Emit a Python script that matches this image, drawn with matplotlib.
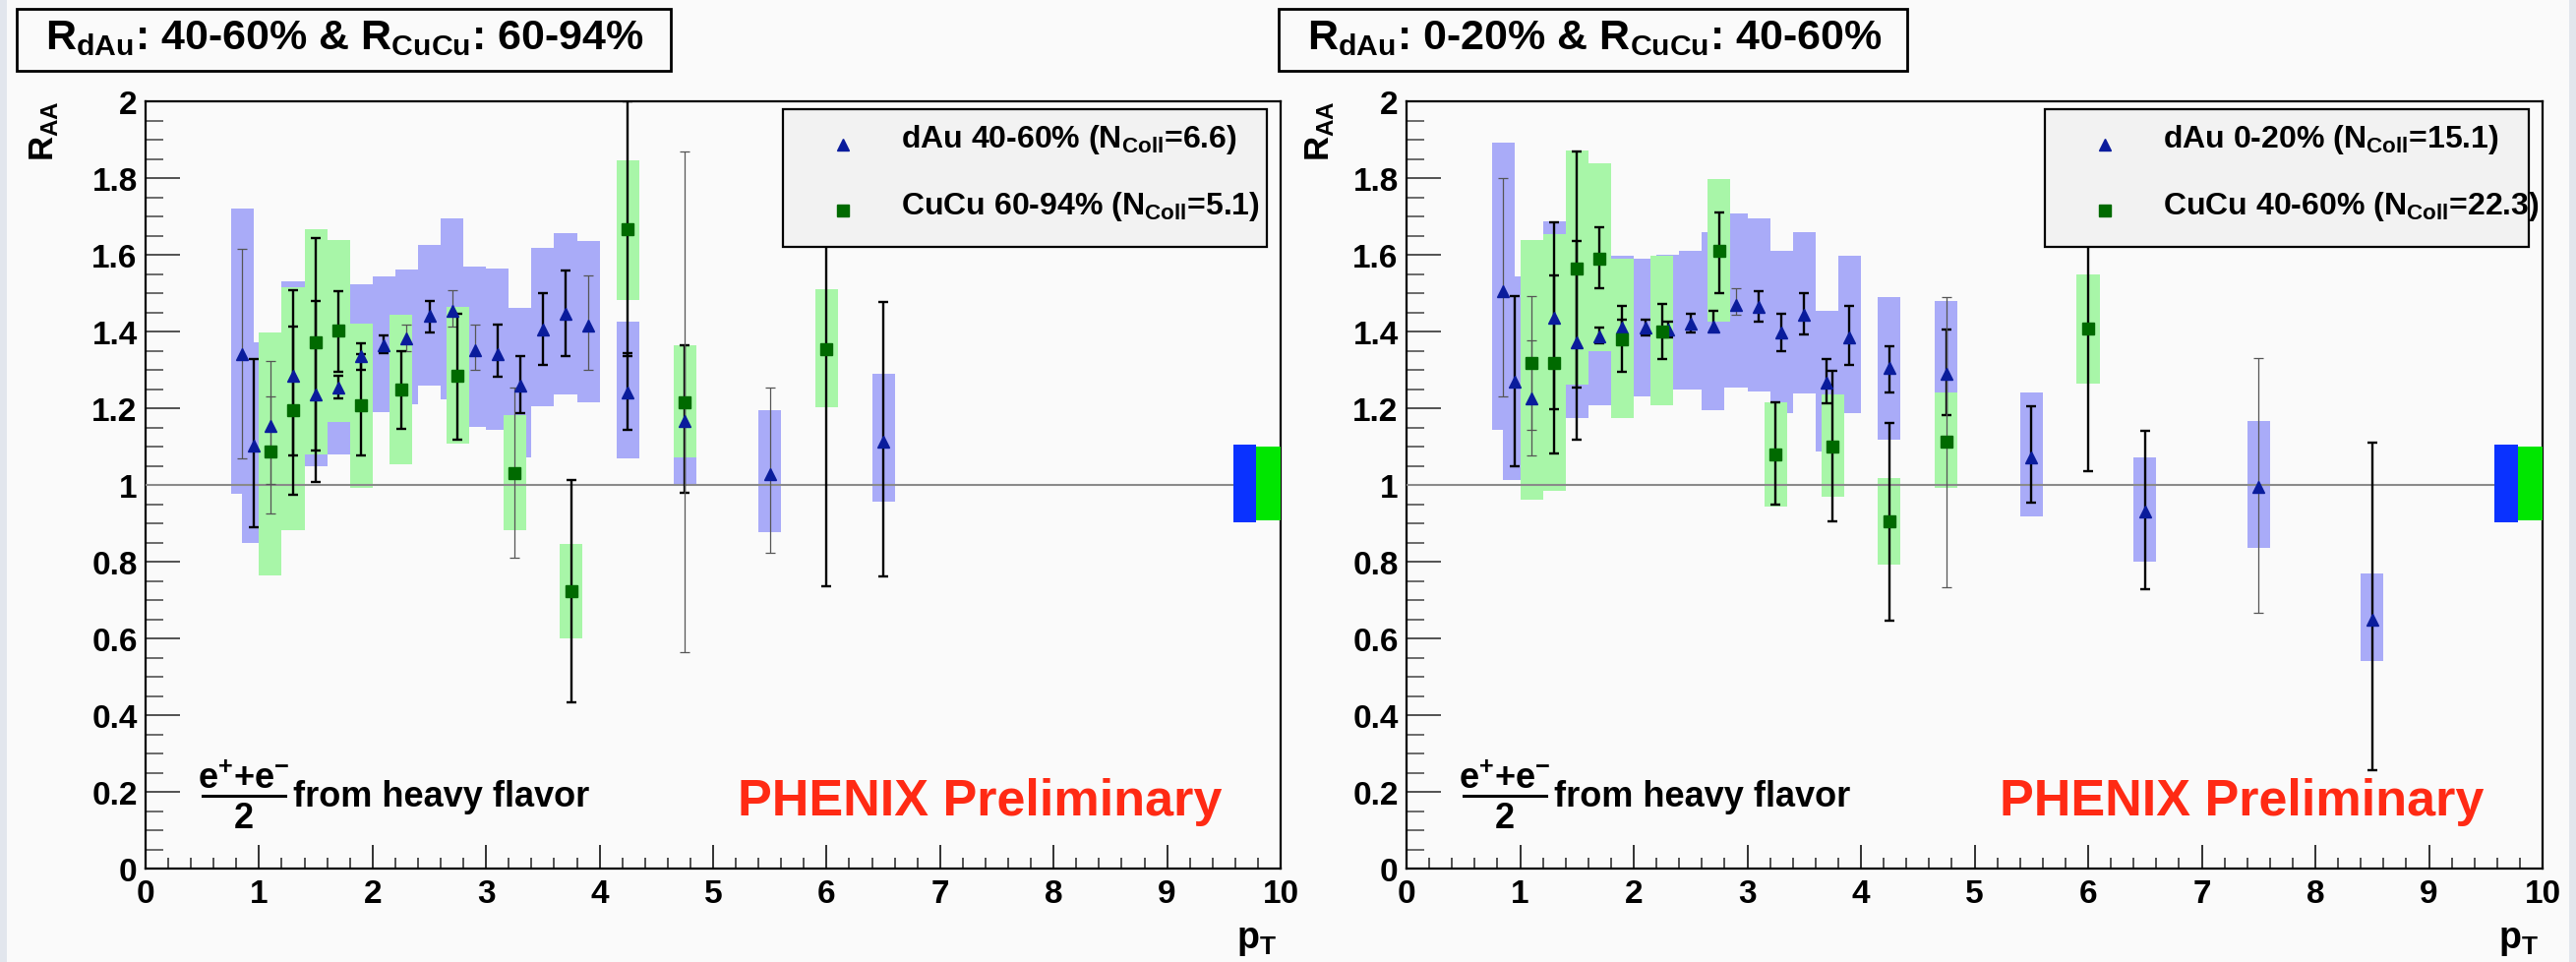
import numpy as np
import matplotlib
matplotlib.use('Agg')
import matplotlib.pyplot as plt
from matplotlib.patches import Rectangle
from matplotlib.ticker import MultipleLocator, FuncFormatter

plt.rcParams['font.family'] = ['Liberation Sans', 'DejaVu Sans']
plt.rcParams['font.weight'] = 'bold'
plt.rcParams['mathtext.fontset'] = 'custom'
for k in ['rm', 'it', 'bf', 'sf']:
    plt.rcParams['mathtext.' + k] = 'Liberation Sans:bold'

# ---------------- data: left panel (dAu 40-60%, CuCu 60-94%) ----------------
pt_dAu_L = [0.85, 0.95, 1.1, 1.3, 1.5, 1.7, 1.9, 2.1, 2.3, 2.5, 2.7, 2.9, 3.1, 3.3, 3.5, 3.7, 3.9, 4.25, 4.75, 5.5, 6.5]
raa_dAu_L = [1.342, 1.102, 1.155, 1.284, 1.237, 1.254, 1.335, 1.365, 1.382, 1.442, 1.455, 1.352, 1.342, 1.258, 1.406, 1.445, 1.415, 1.241, 1.167, 1.029, 1.114]
stlo_dAu_L = [1.070, 0.891, 1.002, 1.076, 1.008, 1.225, 1.30, 1.344, 1.350, 1.397, 1.414, 1.301, 1.281, 1.188, 1.314, 1.336, 1.301, 1.144, 0.980, 0.822, 0.761]
sthi_dAu_L = [1.615, 1.328, 1.322, 1.508, 1.480, 1.285, 1.37, 1.391, 1.418, 1.480, 1.508, 1.418, 1.418, 1.336, 1.500, 1.559, 1.546, 1.343, 1.365, 1.254, 1.478]
sylo_dAu_L = [0.978, 0.849, 0.96, 1.04, 1.049, 1.079, 1.15, 1.190, 1.211, 1.258, 1.224, 1.151, 1.143, 1.071, 1.205, 1.236, 1.216, 1.068, 1.000, 0.878, 0.957]
syhi_dAu_L = [1.721, 1.373, 1.35, 1.532, 1.43, 1.45, 1.523, 1.544, 1.561, 1.626, 1.694, 1.570, 1.564, 1.461, 1.618, 1.657, 1.635, 1.425, 1.33, 1.195, 1.290]
thin_dAu_L = [1, 0, 1, 0, 0, 0, 0, 0, 1, 0, 1, 1, 0, 0, 0, 0, 1, 0, 0, 1, 0]

pt_CuCu_L = [1.1, 1.3, 1.5, 1.7, 1.9, 2.25, 2.75, 3.25, 3.75, 4.25, 4.75, 6.0]
raa_CuCu_L = [1.087, 1.196, 1.372, 1.402, 1.208, 1.250, 1.285, 1.031, 0.724, 1.667, 1.216, 1.353]
stlo_CuCu_L = [0.926, 0.974, 1.089, 1.294, 1.076, 1.145, 1.117, 0.809, 0.434, 1.335, 0.564, 0.735]
sthi_CuCu_L = [1.232, 1.412, 1.643, 1.506, 1.340, 1.350, 1.446, 1.254, 1.013, 2.0, 1.870, 1.97]
sylo_CuCu_L = [0.764, 0.882, 1.079, 1.164, 0.993, 1.053, 1.108, 0.882, 0.600, 1.483, 1.071, 1.203]
syhi_CuCu_L = [1.397, 1.515, 1.667, 1.638, 1.420, 1.444, 1.463, 1.183, 0.846, 1.846, 1.365, 1.509]
thin_CuCu_L = [1, 0, 0, 0, 0, 0, 0, 1, 0, 0, 1, 0]

# ---------------- data: right panel (dAu 0-20%, CuCu 40-60%) ----------------
pt_dAu_R = [0.85, 0.95, 1.1, 1.3, 1.5, 1.7, 1.9, 2.1, 2.3, 2.5, 2.7, 2.9, 3.1, 3.3, 3.5, 3.7, 3.9, 4.25, 4.75, 5.5, 6.5, 7.5, 8.5]
raa_dAu_R = [1.506, 1.268, 1.226, 1.436, 1.373, 1.388, 1.410, 1.410, 1.405, 1.420, 1.414, 1.469, 1.463, 1.398, 1.444, 1.267, 1.385, 1.304, 1.290, 1.071, 0.931, 0.996, 0.650]
stlo_dAu_R = [1.232, 1.049, 1.076, 1.198, 1.117, 1.37, 1.39, 1.39, 1.385, 1.397, 1.399, 1.444, 1.425, 1.349, 1.393, 1.212, 1.314, 1.241, 1.183, 0.953, 0.728, 0.666, 0.257]
sthi_dAu_R = [1.801, 1.493, 1.376, 1.684, 1.637, 1.41, 1.43, 1.43, 1.425, 1.446, 1.453, 1.514, 1.506, 1.445, 1.500, 1.327, 1.467, 1.362, 1.404, 1.205, 1.140, 1.330, 1.110]
sylo_dAu_R = [1.143, 1.012, 1.05, 1.19, 1.174, 1.208, 1.23, 1.232, 1.25, 1.248, 1.196, 1.254, 1.243, 1.188, 1.238, 1.088, 1.188, 1.117, 1.10, 0.918, 0.800, 0.835, 0.541]
syhi_dAu_R = [1.892, 1.544, 1.40, 1.687, 1.57, 1.57, 1.598, 1.591, 1.60, 1.610, 1.658, 1.707, 1.696, 1.611, 1.659, 1.454, 1.598, 1.491, 1.480, 1.242, 1.071, 1.166, 0.770]
thin_dAu_R = [1, 0, 1, 0, 0, 0, 0, 0, 0, 0, 0, 1, 0, 0, 0, 0, 0, 0, 0, 0, 0, 1, 0]

pt_CuCu_R = [1.1, 1.3, 1.5, 1.7, 1.9, 2.25, 2.75, 3.25, 3.75, 4.25, 4.75, 6.0]
raa_CuCu_R = [1.318, 1.318, 1.564, 1.591, 1.379, 1.399, 1.610, 1.079, 1.101, 0.905, 1.114, 1.408]
stlo_CuCu_R = [1.144, 1.083, 1.254, 1.513, 1.294, 1.328, 1.499, 0.948, 0.905, 0.646, 0.734, 1.035]
sthi_CuCu_R = [1.493, 1.547, 1.869, 1.671, 1.466, 1.472, 1.711, 1.215, 1.297, 1.162, 1.491, 1.78]
sylo_CuCu_R = [0.962, 0.985, 1.262, 1.348, 1.174, 1.208, 1.425, 0.944, 0.970, 0.793, 0.992, 1.264]
syhi_CuCu_R = [1.638, 1.653, 1.872, 1.838, 1.591, 1.598, 1.797, 1.215, 1.236, 1.018, 1.242, 1.550]
thin_CuCu_R = [1, 0, 0, 0, 0, 0, 0, 0, 0, 0, 1, 0]

# global normalisation uncertainties (boxes at right edge)
norm_dAu = [0.903, 1.106]
norm_CuCu = [0.908, 1.100]

titles = [r'R$_{\mathrm{dAu}}$: 40-60% & R$_{\mathrm{CuCu}}$: 60-94%',
          r'R$_{\mathrm{dAu}}$: 0-20% & R$_{\mathrm{CuCu}}$: 40-60%']
leg_dAu = [r'dAu 40-60% (N$_{\mathrm{Coll}}$=6.6)', r'dAu 0-20% (N$_{\mathrm{Coll}}$=15.1)']
leg_CuCu = [r'CuCu 60-94% (N$_{\mathrm{Coll}}$=5.1)', r'CuCu 40-60% (N$_{\mathrm{Coll}}$=22.3)']

# ---------------- style ----------------
W, H = 2619, 979
BG = '#fafafa'
BLUE_BOX = '#a9abf8'
GREEN_BOX = '#a8f6a8'
TRI = '#0a1c9c'
SQ = '#006a00'

fig = plt.figure(figsize=(W / 100, H / 100), dpi=100, facecolor=BG)

def fx(px):
    return px / W

def fy(py):
    return 1 - py / H

ax_L = fig.add_axes([fx(148), fy(884), fx(1302 - 148), (884 - 104) / H])
ax_R = fig.add_axes([fx(1430), fy(884), fx(2585 - 1430), (884 - 104) / H])


def draw_errs(ax, x, lo, hi, thin):
    x = np.asarray(x); lo = np.asarray(lo); hi = np.asarray(hi)
    thin = np.asarray(thin, dtype=bool)
    mid = (lo + hi) / 2
    for mask, col, lw in [(~thin, 'black', 1.7), (thin, '#555555', 0.9)]:
        if mask.any():
            ax.errorbar(x[mask], mid[mask],
                        yerr=[mid[mask] - lo[mask], hi[mask] - mid[mask]],
                        fmt='none', ecolor=col, elinewidth=lw, capsize=3.8,
                        capthick=lw, zorder=5)


def panel(ax, d, c, title, l1, l2, ylab_x, tbox, ttext_x):
    ax.set_facecolor(BG)
    ax.set_xlim(0, 10)
    ax.set_ylim(0, 2)
    # systematic boxes
    ax.bar(d[0], np.array(d[5]) - np.array(d[4]), bottom=d[4], width=0.2,
           color=BLUE_BOX, linewidth=0, zorder=1)
    ax.bar(c[0], np.array(c[5]) - np.array(c[4]), bottom=c[4], width=0.2,
           color=GREEN_BOX, linewidth=0, zorder=2)
    ax.axhline(1.0, color='#8a8a8a', lw=1.5, zorder=3)
    # normalisation boxes
    ax.bar([9.58], [norm_dAu[1] - norm_dAu[0]], bottom=[norm_dAu[0]], width=0.2,
           align='edge', color='#0a32ff', linewidth=0, zorder=4)
    ax.bar([9.78], [norm_CuCu[1] - norm_CuCu[0]], bottom=[norm_CuCu[0]], width=0.22,
           align='edge', color='#00e600', linewidth=0, zorder=4)
    # stat errors
    draw_errs(ax, d[0], d[2], d[3], d[6])
    draw_errs(ax, c[0], c[2], c[3], c[6])
    ax.plot(d[0], d[1], linestyle='none', marker='^', ms=8.5, color=TRI, mec=TRI, zorder=6)
    ax.plot(c[0], c[1], linestyle='none', marker='s', ms=8.5, color=SQ, mec=SQ, zorder=6)

    # axes styling
    for s in ax.spines.values():
        s.set_linewidth(1.6)
        s.set_color('black')
    ax.xaxis.set_major_locator(MultipleLocator(1))
    ax.xaxis.set_minor_locator(MultipleLocator(0.2))
    ax.yaxis.set_major_locator(MultipleLocator(0.2))
    ax.yaxis.set_minor_locator(MultipleLocator(0.05))
    ax.yaxis.set_major_formatter(FuncFormatter(lambda v, p: f'{v:g}'))
    ax.xaxis.set_major_formatter(FuncFormatter(lambda v, p: f'{v:g}'))
    ax.tick_params(axis='x', which='major', direction='in', length=17, width=1.3,
                   labelsize=24, pad=7, color='#222222')
    ax.tick_params(axis='x', which='minor', direction='in', length=8, width=1.1, color='#222222')
    ax.tick_params(axis='y', which='major', direction='in', length=25, width=1.3,
                   labelsize=24, pad=6, color='#444444')
    ax.tick_params(axis='y', which='minor', direction='in', length=13, width=1.1, color='#444444')
    for lab in ax.get_xticklabels() + ax.get_yticklabels():
        lab.set_fontweight('bold')

    ax.text(ylab_x, 1.002, r'R$_{\mathrm{AA}}$', transform=ax.transAxes, rotation=90,
            ha='center', va='top', fontsize=25, fontweight='bold')
    ax.text(0.9965, -0.092, r'p$_{\mathrm{T}}$', transform=ax.transAxes,
            ha='right', va='center', fontsize=27, fontweight='bold')

    # legend (manual)
    ax.add_patch(Rectangle((0.5615, 0.8103), 0.4264, 0.1794, transform=ax.transAxes,
                           facecolor='#f2f2f2', edgecolor='black', lw=1.6, zorder=10,
                           clip_on=False))
    ax.plot([0.6144], [0.9436], marker='^', ms=8.5, color=TRI, transform=ax.transAxes,
            zorder=11, clip_on=False, linestyle='none')
    ax.plot([0.6144], [0.8577], marker='s', ms=8.5, color=SQ, transform=ax.transAxes,
            zorder=11, clip_on=False, linestyle='none')
    ax.text(0.6655, 0.941, l1, transform=ax.transAxes, fontsize=23, fontweight='bold',
            va='baseline', ha='left', zorder=12)
    ax.text(0.6655, 0.854, l2, transform=ax.transAxes, fontsize=23, fontweight='bold',
            va='baseline', ha='left', zorder=12)

    # fraction label
    ax.text(0.0867, 0.1051, r'e$^{+}$+e$^{-}$', transform=ax.transAxes, ha='center',
            va='baseline', fontsize=26, fontweight='bold')
    ax.plot([0.0503, 0.1231], [0.0949, 0.0949], color='black', lw=2.2,
            transform=ax.transAxes, clip_on=False)
    ax.text(0.0867, 0.0538, '2', transform=ax.transAxes, ha='center', va='baseline',
            fontsize=26, fontweight='bold')
    ax.text(0.130, 0.082, 'from heavy flavor', transform=ax.transAxes, ha='left',
            va='baseline', fontsize=26, fontweight='bold')
    ax.text(0.522, 0.0705, 'PHENIX Preliminary', transform=ax.transAxes, ha='left',
            va='baseline', fontsize=37.5, fontweight='bold', color='#ff2a14')

    # title box
    x0, x1 = tbox
    fig.add_artist(Rectangle((fx(x0), fy(73)), fx(x1 - x0), 63 / H, transform=fig.transFigure,
                             facecolor=BG, edgecolor='black', lw=2.0))
    fig.text(fx(ttext_x), fy(50), title, ha='left', va='baseline', fontsize=31,
             fontweight='bold')


panel(ax_L,
      (pt_dAu_L, raa_dAu_L, stlo_dAu_L, sthi_dAu_L, sylo_dAu_L, syhi_dAu_L, thin_dAu_L),
      (pt_CuCu_L, raa_CuCu_L, stlo_CuCu_L, sthi_CuCu_L, sylo_CuCu_L, syhi_CuCu_L, thin_CuCu_L),
      titles[0], leg_dAu[0], leg_CuCu[0], -0.089, (17, 682), 46)
panel(ax_R,
      (pt_dAu_R, raa_dAu_R, stlo_dAu_R, sthi_dAu_R, sylo_dAu_R, syhi_dAu_R, thin_dAu_R),
      (pt_CuCu_R, raa_CuCu_R, stlo_CuCu_R, sthi_CuCu_R, sylo_CuCu_R, syhi_CuCu_R, thin_CuCu_R),
      titles[1], leg_dAu[1], leg_CuCu[1], -0.076, (1300, 1939), 1329)

# light bluish edge strips of the slide
fig.add_artist(Rectangle((0, 0), fx(7), 1, transform=fig.transFigure,
                         facecolor='#e2e6ed', edgecolor='none'))
fig.add_artist(Rectangle((fx(2612), 0), fx(7), 1, transform=fig.transFigure,
                         facecolor='#e2e6ed', edgecolor='none'))

fig.savefig('out.png', dpi=100, facecolor=BG)
